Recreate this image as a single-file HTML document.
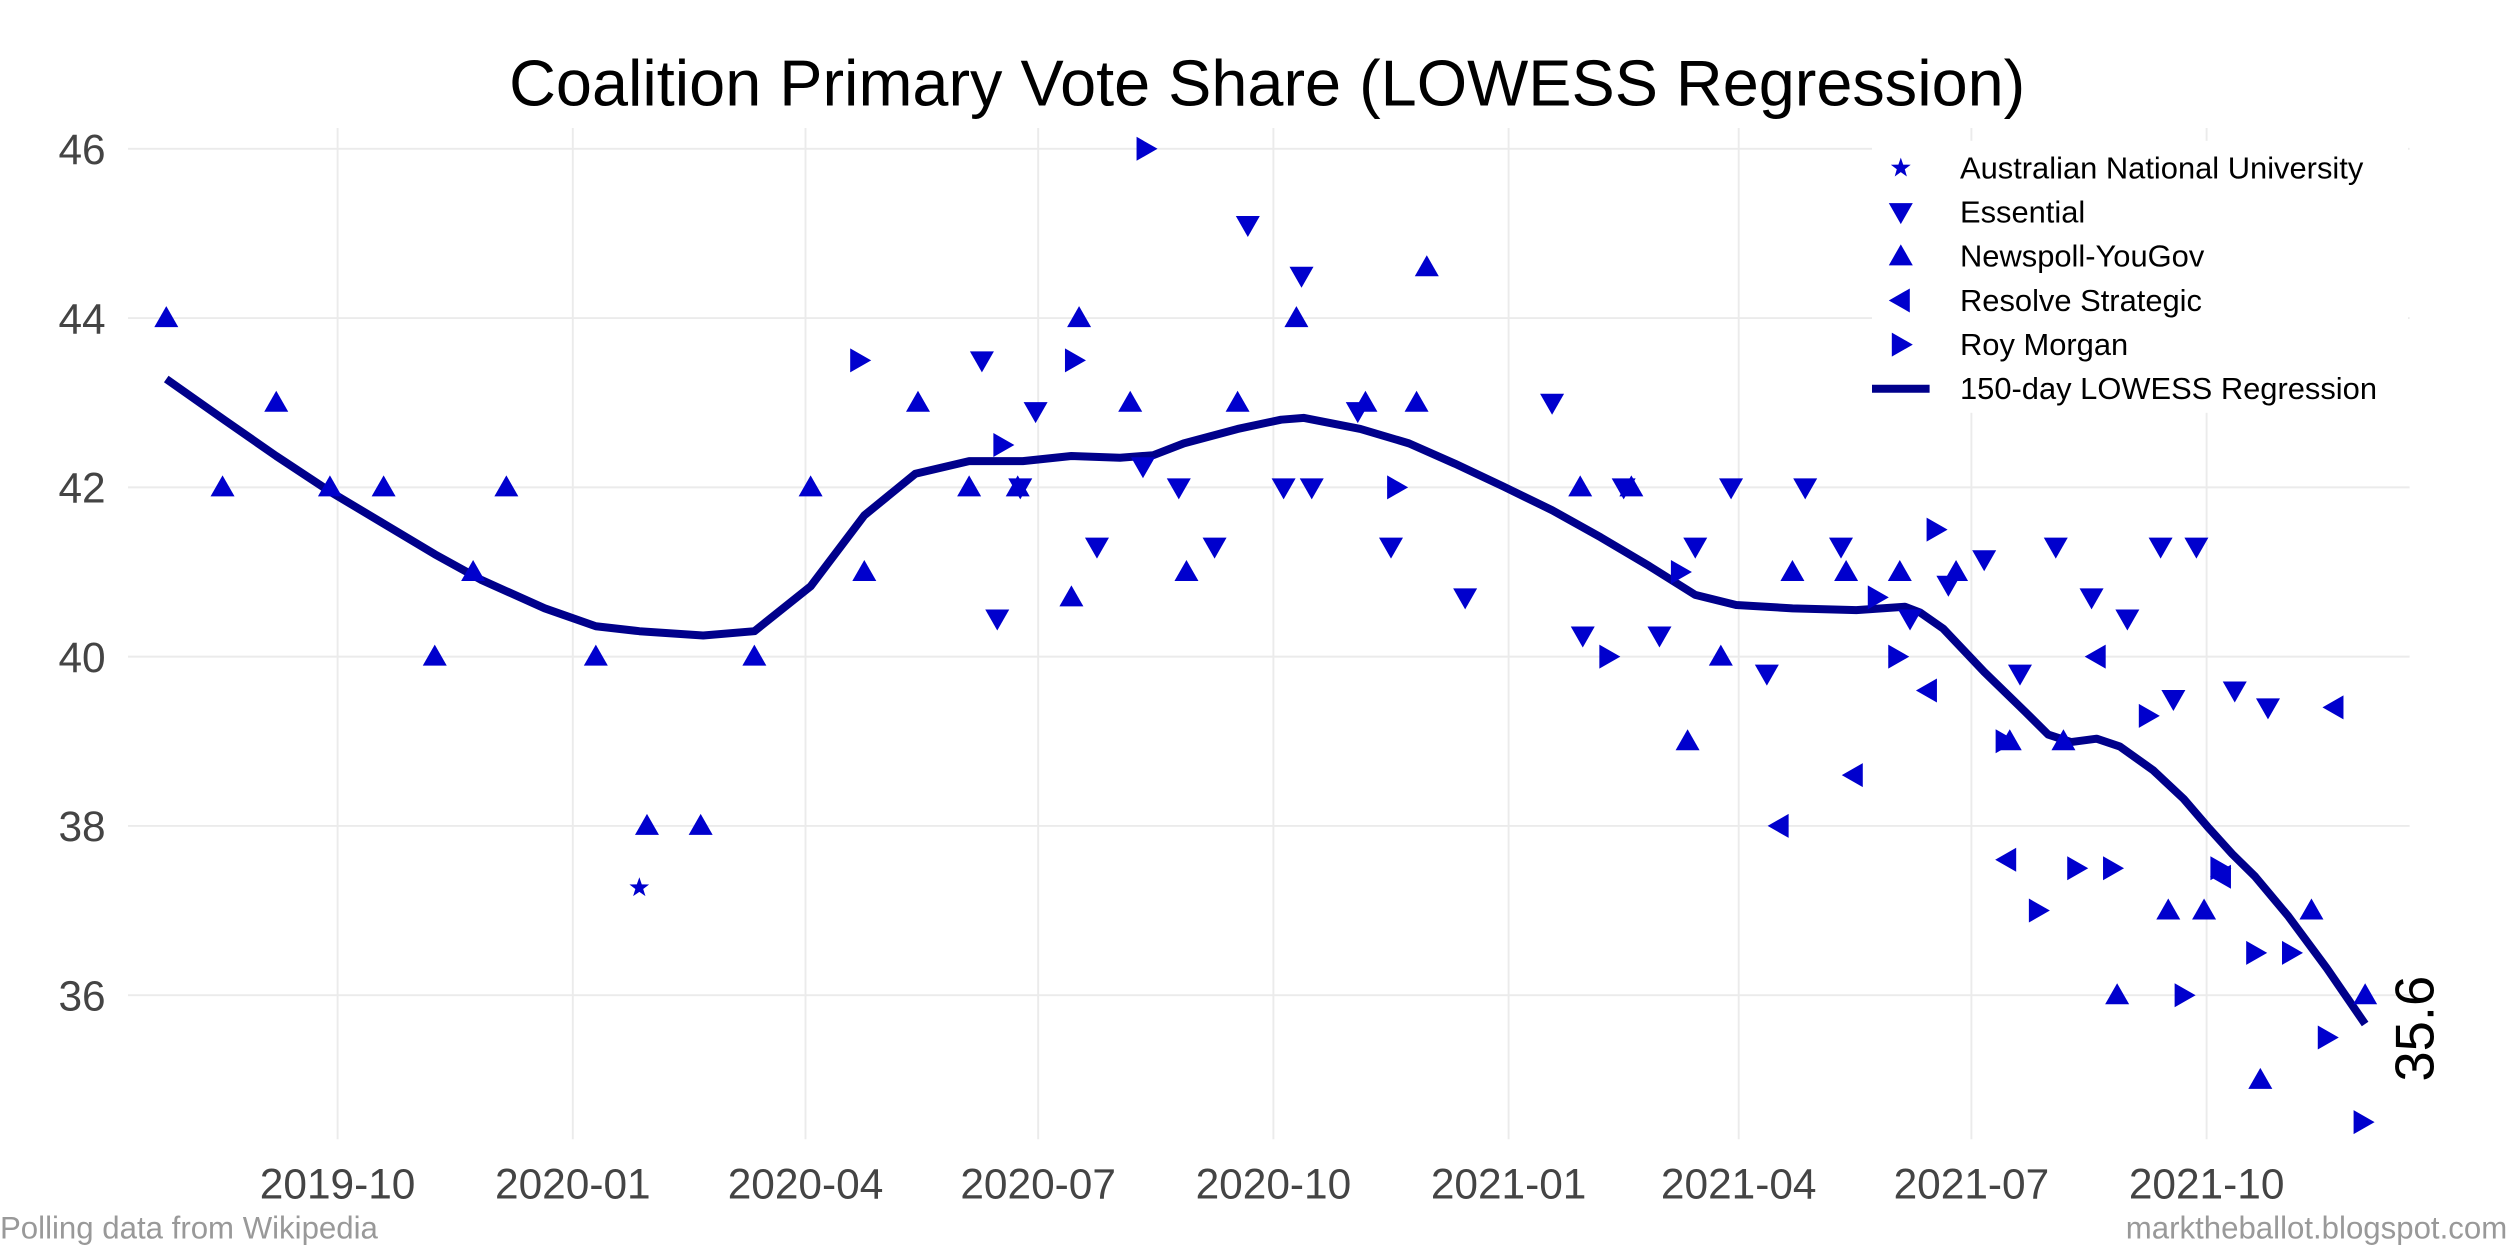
<!DOCTYPE html>
<html><head><meta charset="utf-8"><style>
html,body{margin:0;padding:0;background:#fff;}
svg{display:block;font-family:"Liberation Sans",Arial,sans-serif;}
</style></head><body>
<svg id="chart" width="2508" height="1254" viewBox="0 0 1567.5 783.75" xmlns="http://www.w3.org/2000/svg">
<rect width="1567.5" height="783.75" fill="#fff"/>
<g id="grid"></g>
<g id="axes"></g>
<g id="line"></g>
<g id="points"></g>
<text x="792" y="66" text-anchor="middle" font-size="40.5" fill="#000">Coalition Primary Vote Share (LOWESS Regression)</text>
<text x="0" y="774" font-size="19.5" fill="#999">Polling data from Wikipedia</text>
<text x="1567" y="774" text-anchor="end" font-size="19.5" fill="#999">marktheballot.blogspot.com</text>
<text transform="translate(1521,676) rotate(-90)" font-size="34" fill="#000">35.6</text>
<g id="legend"></g>
</svg>
<script>
// days since 2019-10-01
const xTickLabels=["2019-10","2020-01","2020-04","2020-07","2020-10","2021-01","2021-04","2021-07","2021-10"];
const xTickDays=[0,92,183,274,366,458,548,639,731];
const yTicks=[36,38,40,42,44,46];
const houses=["Australian National University","Essential","Newspoll-YouGov","Resolve Strategic","Roy Morgan"];
const anuDay=[118]; const anuVal=[37.27];
const essDay=[252,258,267,273,297,315,329,343,356,370,377,381,399,412,441,475,487,503,517,531,545,559,574,588,615,630,644,658,672,686,700,713,718,727,742,755];
const essVal=[43.5,40.45,42,42.9,41.3,42.25,42,41.3,45.1,42,44.5,42,42.9,41.3,40.7,43,40.25,42,40.25,41.3,42,39.8,42,41.3,40.45,40.85,41.15,39.8,41.3,40.7,40.45,41.3,39.5,41.3,39.6,39.4];
const npDay=[-67,-45,-24,-3,18,38,53,66,101,121,142,163,185,206,227,247,266,287,290,310,332,352,375,402,422,426,486,506,528,541,569,590,611,633,654,675,696,716,730,752,772,793];
const npVal=[44,42,43,42,42,40,41,42,40,38,38,40,42,41,43,42,42,40.7,44,43,41,43,44,43,43,44.6,42,42,39,40,41,41,41,41,39,39,36,37,37,35,37,36];
const rsDay=[564,593,622,653,688,737,781];
const rsVal=[38,38.6,39.6,37.6,40,37.4,39.4];
const rmDay=[204,260,288,316,414,497,525,602,610,625,652,665,680,694,708,722,736,750,764,778,792];
const rmVal=[43.5,42.5,43.5,46,42,40,41,40.7,40,41.5,39,37,37.5,37.5,39.3,36,37.5,36.5,36.5,35.5,34.5];
const lowDay=[-67,-44,-24,-3,18,38,56,67,81,101,118,143,163,185,206,226,247,268,287,306,319,331,352,369,378,400,419,437,456,475,494,513,531,547,569,594,613,619,628,644,660,669,678,688,697,710,722,732,741,750,763,778,793];
const lowVal=[43.28,42.79,42.37,41.95,41.57,41.21,40.91,40.76,40.57,40.36,40.30,40.25,40.30,40.83,41.67,42.16,42.31,42.31,42.37,42.35,42.38,42.52,42.69,42.80,42.82,42.69,42.52,42.28,42.01,41.73,41.41,41.07,40.73,40.61,40.57,40.55,40.59,40.52,40.33,39.82,39.35,39.08,38.99,39.03,38.94,38.66,38.32,37.97,37.67,37.40,36.93,36.32,35.66];

const NS="http://www.w3.org/2000/svg";
const X=d=>211+d*1.598;
const Y=v=>622-(v-36)*52.9;
function mk(tag,attrs,parent){const e=document.createElementNS(NS,tag);for(const k in attrs)e.setAttribute(k,attrs[k]);parent.appendChild(e);return e;}
const grid=document.getElementById('grid'),axes=document.getElementById('axes');
const L=80,R=1506,T=80,B=712;
yTicks.forEach(v=>{
  const l=mk('line',{x1:L,x2:R,y1:Y(v),y2:Y(v),stroke:'#ebebeb','stroke-width':1.2},grid);
  
  
  const t=mk('text',{x:66,y:Y(v)+9.5,'text-anchor':'end','font-size':26.5,fill:'#444'},axes);
  t.textContent=v;
  
  
});
xTickDays.forEach((d,i)=>{
  const l=mk('line',{x1:X(d),x2:X(d),y1:T,y2:B,stroke:'#ebebeb','stroke-width':1.2},grid);
  
  
  const t=mk('text',{x:X(d),y:749,'text-anchor':'middle','font-size':26.5,fill:'#444'},axes);
  t.textContent=xTickLabels[i];
  
  
});
const C='#0000CD',s=7.5;
function marker(type,x,y,parent){
  let p;
  if(type==='star'){
    let pts=[];for(let k=0;k<10;k++){const r=k%2?2.6:6.5,a=-Math.PI/2+k*Math.PI/5;pts.push((x+r*Math.cos(a)).toFixed(1)+','+(y+r*Math.sin(a)).toFixed(1));}
    p=mk('polygon',{points:pts.join(' '),fill:C},parent);
  }else{
    let pts;
    if(type==='up')pts=[[x,y-s],[x-s,y+s*0.75],[x+s,y+s*0.75]];
    if(type==='down')pts=[[x,y+s],[x-s,y-s*0.75],[x+s,y-s*0.75]];
    if(type==='left')pts=[[x-s,y],[x+s*0.75,y-s],[x+s*0.75,y+s]];
    if(type==='right')pts=[[x+s,y],[x-s*0.75,y-s],[x-s*0.75,y+s]];
    p=mk('polygon',{points:pts.map(q=>q.join(',')).join(' '),fill:C},parent);
  }
  return p;
}
const pg=document.getElementById('points');
function series(days,vals,type,name){
  days.forEach((d,i)=>{
    const p=marker(type,X(d),Y(vals[i]),pg);
    
    
  });
}
series(anuDay,anuVal,'star','anu-point');
series(essDay,essVal,'down','essential-point');
series(npDay,npVal,'up','newspoll-point');
series(rsDay,rsVal,'left','resolve-point');
series(rmDay,rmVal,'right','roy-morgan-point');
const path=mk('polyline',{points:lowDay.map((d,i)=>X(d).toFixed(1)+','+Y(lowVal[i]).toFixed(1)).join(' '),fill:'none',stroke:'#00008B','stroke-width':5,'stroke-linejoin':'round'},document.getElementById('line'));


// legend
const lg=document.getElementById('legend');
mk('rect',{x:1170,y:88,width:335,height:170,fill:'#fff'},lg);
const types=['star','down','up','left','right'];
houses.forEach((h,i)=>{
  const y=105+i*27.6;
  const m=marker(types[i],1188,y,lg);
  
  
  const t=mk('text',{x:1225,y:y+6.5,'font-size':19.3,fill:'#000'},lg);
  t.textContent=h;
  
  
});
const ly=105+5*27.6;
const ll=mk('line',{x1:1170,x2:1206,y1:ly,y2:ly,stroke:'#00008B','stroke-width':5},lg);


const lt=mk('text',{x:1225,y:ly+6.5,'font-size':19.3,fill:'#000'},lg);
lt.textContent='150-day LOWESS Regression';


</script>
</body></html>
